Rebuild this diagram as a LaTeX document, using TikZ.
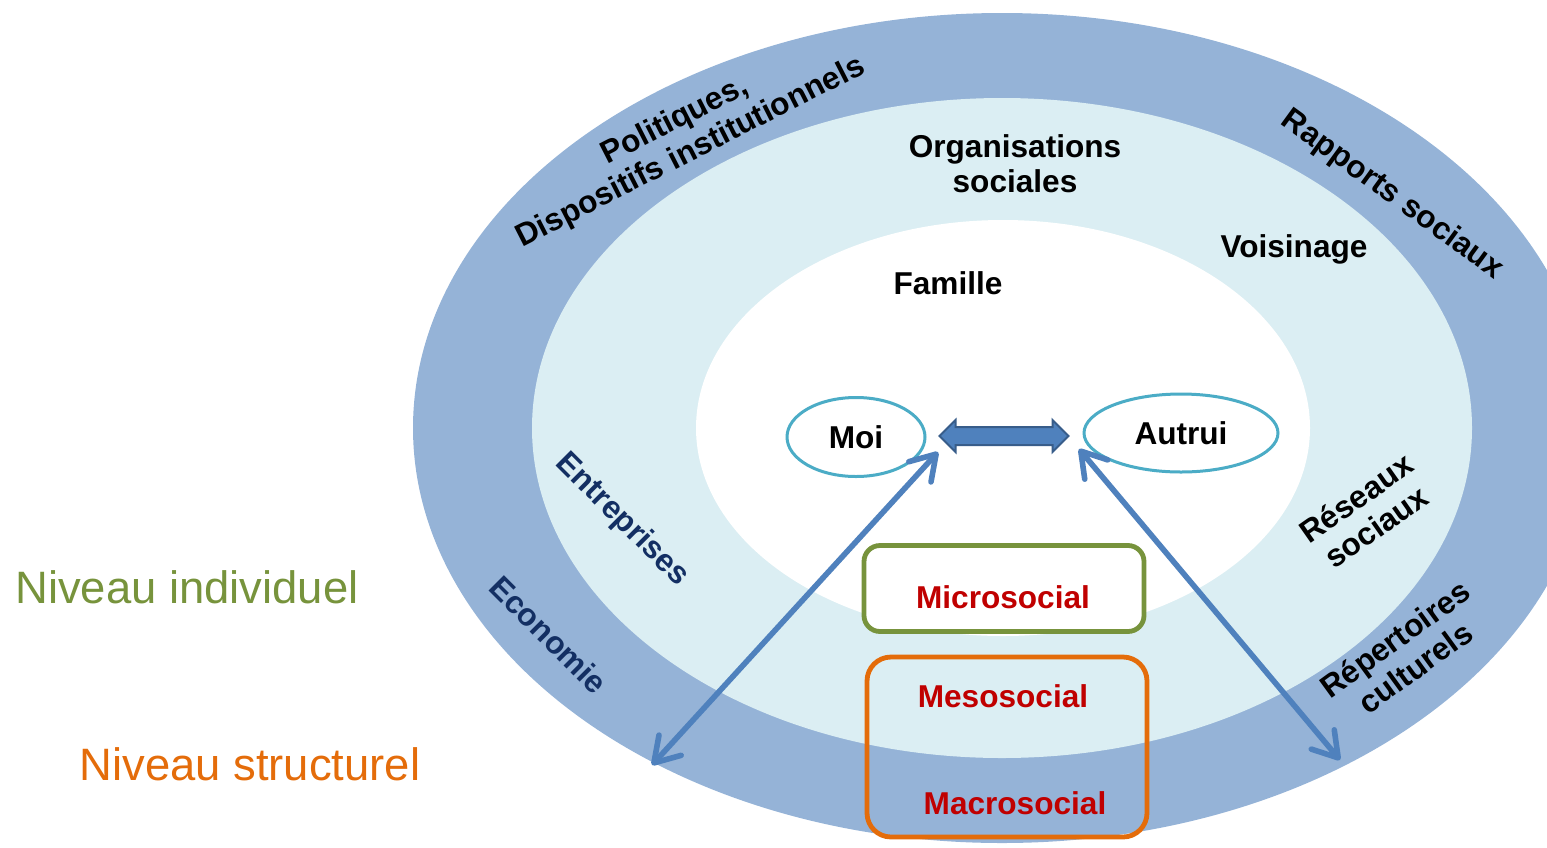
\documentclass[tikz,border=0pt]{standalone}
\usepackage{fontspec}
\setmainfont{Liberation Sans}
\usetikzlibrary{shapes.geometric,arrows.meta}
\definecolor{ringout}{HTML}{95B3D7}
\definecolor{ringin}{HTML}{DBEEF3}
\definecolor{tealc}{HTML}{4BACC6}
\definecolor{arrowc}{HTML}{4F81BD}
\definecolor{arrowedge}{HTML}{385D8A}
\definecolor{greenc}{HTML}{77933C}
\definecolor{orangec}{HTML}{E46C0A}
\definecolor{redc}{HTML}{C00000}
\definecolor{navyc}{HTML}{132F63}
\begin{document}
\begin{tikzpicture}[x=0.5pt, y=-0.5pt,
    lbl/.style={font=\fontsize{15.8}{17.5}\selectfont\bfseries, align=center, inner sep=0pt},
    navylbl/.style={lbl, text=navyc},
    redlbl/.style={lbl, text=redc},
    self/.style={ellipse, draw=tealc, line width=1.5pt, fill=white, inner sep=0pt},
    levelbox/.style={rounded corners=8pt, line width=2.4pt, minimum width=140pt},
    link/.style={draw=arrowc, line width=2.8pt,
      arrows={Straight Barb[length=12pt,width=15pt,round]-Straight Barb[length=12pt,width=15pt,round]}},
    niveau/.style={font=\fontsize{22.7}{26}\selectfont, inner sep=0pt}]
  \useasboundingbox (0,0) rectangle (1547,847);
  \clip (0,0) rectangle (1547,847);
  % rings
  \fill[ringout] (1002,428) ellipse [x radius=294.5pt, y radius=207.5pt];
  \fill[ringin] (1002,428) ellipse [x radius=235pt, y radius=165pt];
  \fill[white] (1003,428) ellipse [x radius=153.5pt, y radius=104pt];

  \node[niveau, text=greenc] (indiv) at (187,587) {Niveau individuel};
  \node[niveau, text=orangec] (struct) at (250,764) {Niveau structurel};

  \node[lbl, rotate=27] (politiques) at (683,137) {Politiques,\\Dispositifs institutionnels};
  \node[lbl, rotate=-36] (rapports) at (1392,195) {Rapports sociaux};
  \node[lbl] (orga) at (1015,164) {Organisations\\sociales};
  \node[lbl] (voisinage) at (1294,249) {Voisinage};
  \node[lbl] (famille) at (948,283) {Famille};
  \node[lbl, rotate=35] (reseaux) at (1366,512) {Réseaux\\sociaux};
  \node[lbl, rotate=36] (repertoires) at (1405,653) {Répertoires\\culturels};
  \node[navylbl, rotate=-45] (entreprises) at (622,520) {Entreprises};
  \node[navylbl, rotate=-45] (economie) at (549,635) {Economie};

  \node[self, minimum width=69pt, minimum height=39.5pt] (moi) at (856,437) {};
  \node[lbl] at (moi) {Moi};
  \node[self, minimum width=97pt, minimum height=39pt] (autrui) at (1181,433) {};
  \node[lbl] at (autrui) {Autrui};

  % Moi <-> Autrui
  \path (moi.east) -- (autrui.west) coordinate[pos=0.5] (mid);
  \draw[fill=arrowc, draw=arrowedge, line width=1pt, shift={(mid)}]
    (-65,1) -- (-49,-15) -- (-49,-8) -- (48,-8) -- (48,-15) -- (64,1)
    -- (48,17) -- (48,10) -- (-49,10) -- (-49,17) -- cycle;

  \coordinate (moitip) at (938,452);
  \coordinate (eco) at (652,765);
  \coordinate (autip) at (1079,449);
  \coordinate (rep) at (1340,760);
  \draw[link] (moitip) -- (eco);
  \draw[link] (autip) -- (rep);

  \node[levelbox, draw=greenc, fill=white, minimum height=43pt] (micro) at (1004,588.5) {};
  \node[redlbl] (microl) at (1003,597) {Microsocial};
  \node[levelbox, draw=orangec, rounded corners=12pt, minimum height=90pt] (mesomacro) at (1007,747) {};
  \node[redlbl] (meso) at (1003,696) {Mesosocial};
  \node[redlbl] (macro) at (1015,803) {Macrosocial};
\end{tikzpicture}
\end{document}
